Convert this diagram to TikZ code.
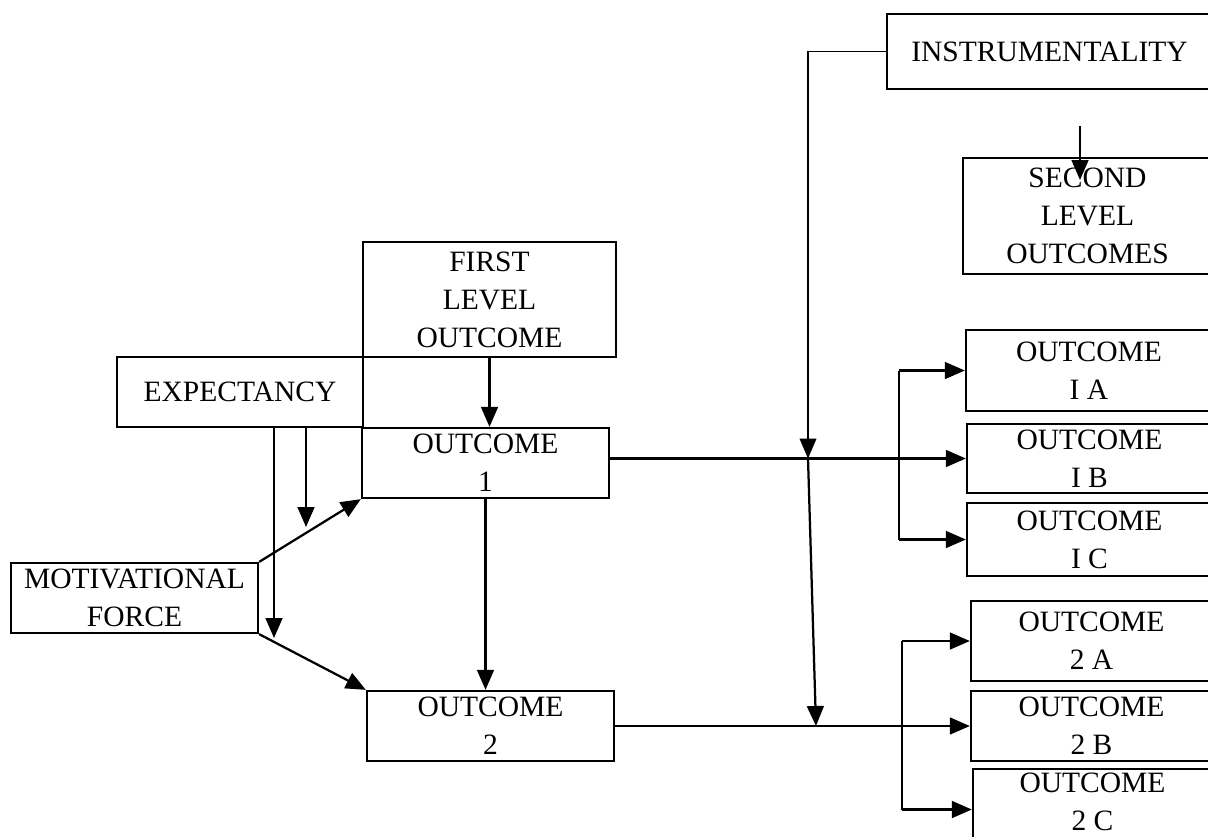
\documentclass[tikz,border=0pt]{standalone}
\usepackage{fontspec}
\setmainfont{Liberation Serif}
\usetikzlibrary{arrows.meta}

\begin{document}
\begin{tikzpicture}[x=0.025cm,y=-0.025cm,
  font=\fontsize{21}{27}\selectfont,
  box/.style={draw,line width=1.6pt,align=center,inner sep=0pt},
  arrw/.style={-{Triangle[length=5mm,width=4.2mm]},line width=1.6pt},
  thinln/.style={line width=0.9pt}]

\useasboundingbox (0,0) rectangle (1208,836);
\clip (0,0) rectangle (1208,836);

\node[box,minimum width=8.125cm,minimum height=1.875cm] (instr) at (1049.5,51.5) {INSTRUMENTALITY};
\node[box,minimum width=6.225cm,minimum height=2.9cm] (second) at (1087.5,216) {SECOND\\ LEVEL\\ OUTCOMES};
\node[box,minimum width=6.325cm,minimum height=2.875cm] (first) at (489.5,299.5) {FIRST\\ LEVEL\\ OUTCOME};
\node[box,minimum width=6.15cm,minimum height=1.75cm] (expect) at (240,392) {EXPECTANCY};
\node[box,minimum width=6.175cm,minimum height=1.75cm] (out1) at (485.5,463) {OUTCOME\\ 1};
\node[box,minimum width=6.175cm,minimum height=1.75cm] (motiv) at (134.5,598) {MOTIVATIONAL\\ FORCE};
\node[box,minimum width=6.175cm,minimum height=1.75cm] (out2) at (490.5,726) {OUTCOME\\ 2};

\node[box,minimum width=6.15cm,minimum height=2.025cm] (o1a) at (1089,370.5) {OUTCOME\\ I A};
\node[box,minimum width=6.125cm,minimum height=1.725cm] (o1b) at (1089.5,458.5) {OUTCOME\\ I B};
\node[box,minimum width=6.125cm,minimum height=1.825cm] (o1c) at (1089.5,539.5) {OUTCOME\\ I C};
\node[box,minimum width=6.025cm,minimum height=2cm] (o2a) at (1091.5,641) {OUTCOME\\ 2 A};
\node[box,minimum width=6.025cm,minimum height=1.75cm] (o2b) at (1091.5,726) {OUTCOME\\ 2 B};
% lifted a little so the last line stays inside the page
\node[box,minimum width=5.975cm,minimum height=2.025cm,text depth=0.4cm] (o2c) at (1092.5,809.5) {OUTCOME\\ 2 C};

\coordinate (e1) at (274,638);
\coordinate (e2) at (306,527);
\coordinate (j1) at (808,458.5);
\coordinate (j2) at (816,726);
\coordinate (s1) at (1080,126);
\coordinate (s2) at (1080,180);
\coordinate (br1) at (899,0);
\coordinate (br2) at (902,0);

\draw[arrw] (first.south) -- (first.south |- out1.north);
\draw[arrw] (e1 |- expect.south) -- (e1);
\draw[arrw] (e2 |- expect.south) -- (e2);
\draw[arrw] (motiv.north east) -- (out1.south west);
\draw[arrw] (motiv.south east) -- (out2.north west);
\draw[arrw] (out1.south) -- (out1.south |- out2.north);
\draw[arrw] (out1.east |- o1b.west) -- (o1b.west);
\draw[arrw] (out2.east) -- (o2b.west);
% instrumentality feeds both outcome lines
\draw[thinln,-{Triangle[length=5mm,width=4.2mm]}] (instr.west) -| (j1);
\draw[arrw] (j1) -- (j2);
\draw[arrw] (s1) -- (s2);

\draw[thinln] (br1 |- o1a.west) -- (br1 |- o1c.west);
\draw[arrw] (br1 |- o1a.west) -- (o1a.west);
\draw[arrw] (br1 |- o1c.west) -- (o1c.west);
\draw[thinln] (br2 |- o2a.west) -- (br2 |- o2c.west);
\draw[arrw] (br2 |- o2a.west) -- (o2a.west);
\draw[arrw] (br2 |- o2c.west) -- (o2c.west);
\end{tikzpicture}
\end{document}
